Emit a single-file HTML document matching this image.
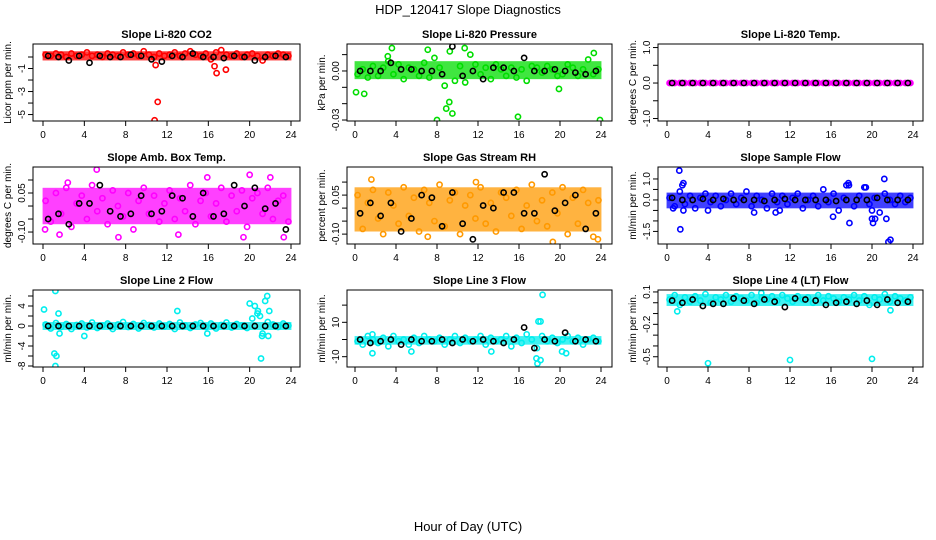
<!DOCTYPE html>
<html><head><meta charset="utf-8"><style>
html,body{margin:0;padding:0;background:#fff;}
svg{display:block;font-family:"Liberation Sans",Arial,sans-serif;}
</style></head><body>
<svg id="fig" width="936" height="540" viewBox="0 0 936 540">
<rect width="936" height="540" fill="#fff"/>
<text x="468" y="14" text-anchor="middle" font-size="13">HDP_120417  Slope Diagnostics</text>
<text x="468" y="531" text-anchor="middle" font-size="13">Hour of Day (UTC)</text>
</svg>
<script>
// ---- data ----
const hoursColor = [0.25,0.75,1.25,1.75,2.25,2.75,3.25,3.75,4.25,4.75,5.25,5.75,6.25,6.75,7.25,7.75,8.25,8.75,9.25,9.75,10.25,10.75,11.25,11.75,12.25,12.75,13.25,13.75,14.25,14.75,15.25,15.75,16.25,16.75,17.25,17.75,18.25,18.75,19.25,19.75,20.25,20.75,21.25,21.75,22.25,22.75,23.25,23.75];
const hoursBlack = [0.5,1.5,2.5,3.5,4.5,5.5,6.5,7.5,8.5,9.5,10.5,11.5,12.5,13.5,14.5,15.5,16.5,17.5,18.5,19.5,20.5,21.5,22.5,23.5];
const xTicks = [0,4,8,12,16,20,24];

const co2Color = [0.2,0.1,0.3,0.2,0,0.3,0.1,0.2,0.4,0.1,0.2,0,0.3,0.2,0.1,0.4,0.2,0.3,0.1,0.5,0.2,0,0.3,0.1,0.2,0.4,0.1,0.3,0.5,0.2,0.1,0.3,-0.2,0.4,0.6,0.2,0.1,0.3,0,0.2,0.3,0.1,-0.3,0.2,0.1,0.3,0.2,0.1];
const co2OutX = [10.8,11.1,16.8,17.7,16.6,10.9];
const co2OutY = [-5.5,-3.9,-1.4,-1.1,-0.8,-0.7];
const co2Black = [0.1,0,-0.3,0.1,-0.5,0.1,0,0,0.2,0.1,-0.2,-0.4,0.1,0,0.3,0,0,-0.1,0.1,0,-0.3,0,0.1,0];

const presColor = [-0.002,0.001,-0.004,0.003,-0.003,0.002,0.006,-0.002,0.004,-0.005,0.002,0.001,-0.003,0.005,-0.004,0.008,0.002,-0.009,0.012,-0.006,0.003,-0.007,0.01,0.004,-0.002,0.002,-0.005,0.004,0.001,-0.003,0.002,-0.004,0.001,-0.006,0.003,0.002,-0.001,0.003,0.001,-0.003,-0.002,0.004,0.002,-0.003,0.001,0.007,-0.002,0.001];
const presOutX = [0.1,0.9,3.6,8.0,8.9,9.2,9.5,15.9,19.9,23.3,23.9,7.1,10.7,3.2];
const presOutY = [-0.013,-0.014,0.014,-0.030,-0.023,-0.019,-0.026,-0.028,-0.011,0.011,-0.030,0.013,0.014,0.009];
const presBlack = [0,0,0,0.005,0.001,0.001,0,0,-0.002,0.015,-0.003,0,-0.005,0.002,0.002,0,0.008,0,0,0.001,0,-0.001,-0.002,0];

const tempColor = hoursColor.map(()=>0);
const tempBlack = hoursBlack.map(()=>0);

const ambColor = [0.02,-0.06,0.05,-0.03,0.07,-0.08,0.01,0.04,-0.05,0.08,-0.02,0.03,-0.07,0.06,0,-0.04,0.05,-0.09,0.02,0.07,-0.03,0.04,-0.06,0.01,0.06,-0.05,0.03,-0.02,0.08,-0.07,0.02,0.05,-0.04,0.01,0.07,-0.06,0.04,-0.02,0.06,-0.08,0.03,0.05,-0.03,0.07,-0.05,0.02,0.04,-0.06];
const ambOutX = [5.2,0.2,1.6,2.4,7.3,13.1,19.4,23.3,15.9,20.0,22.0];
const ambOutY = [0.14,-0.09,-0.11,0.09,-0.12,-0.11,-0.12,-0.12,0.11,0.12,0.11];
const ambBlack = [-0.05,-0.03,-0.07,0.01,0.01,0.08,-0.02,-0.04,-0.03,0.04,-0.03,-0.02,0.04,0.03,-0.04,0.05,-0.04,-0.03,0.08,0,0.07,-0.01,0.01,-0.09];

const rhColor = [0.05,-0.08,0.02,0.07,-0.04,-0.1,0.06,0.01,-0.06,0.08,-0.03,0.04,-0.09,0.07,0.02,-0.05,0.09,-0.07,0.03,0.06,-0.1,0.01,0.05,-0.04,0.08,-0.06,0.02,-0.09,0.06,0.04,-0.03,0.07,-0.08,0.01,0.09,-0.05,0.03,-0.07,0.06,-0.02,0.08,-0.1,0.04,-0.06,0.07,0.02,-0.11,0.03];
const rhOutX = [1.6,7.1,19.3,23.7,11.8];
const rhOutY = [0.11,-0.11,-0.13,-0.12,0.1];
const rhBlack = [-0.02,0.02,-0.03,0.02,-0.09,-0.04,0.05,0.04,-0.07,0.06,-0.06,-0.12,0.01,0,0.06,0.06,-0.02,-0.02,0.13,-0.01,0.02,0.05,-0.08,-0.02];

const flowColor = [0.1,-0.3,0.4,-0.2,0.2,-0.4,0.1,0.3,-0.1,0.2,-0.3,0,0.3,-0.2,0.1,0.4,-0.3,0.2,0,-0.4,0.3,-0.1,0.2,-0.2,0.1,0.3,-0.4,0,0.2,-0.3,0.5,-0.1,0.3,-0.5,0.1,0.7,-0.3,0.2,0.6,-0.2,0.1,-0.6,0.3,0,-0.2,0.2,-0.1,0.1];
const flowOutX = [1.2,1.5,1.6,1.3,1.6,16.2,17.8,20,20,20.1,20.3,21.2,21.6,21.8,21.4,17.5,17.7,8.5,10.6,11,19.4,4,0.6];
const flowOutY = [1.4,0.7,0.8,-1.4,-0.5,-0.8,-1.1,-0.5,-0.9,-1.1,-0.9,1.0,-2.0,-1.9,-0.9,0.7,0.8,-0.6,-0.6,-0.5,0.6,-0.5,-0.4];
const flowBlack = [0.1,0,0,0.05,0,0.05,0,0,0,-0.05,0,0.05,0,0,0,0,-0.05,0,0,0,0.1,0,0,0];

const l2Color = [0.3,-0.5,0.6,-0.2,0.4,-0.6,0.2,0.5,-0.3,0.7,-0.4,0.1,0.5,-0.6,0.3,0.8,-0.2,0.4,-0.5,0.6,0.2,-0.3,0.5,-0.1,0.4,-0.6,0.7,0.1,-0.4,0.3,0.6,-0.2,0.5,-0.5,0.2,0.7,-0.3,0.4,0.1,-0.4,1.5,2.5,-1.5,0.8,0.3,-0.2,0.5,0.1];
const l2OutX = [0.1,1.2,1.1,1.3,1.2,1.5,1.6,4,13,15.9,20,20.5,20.8,21,21.2,21.5,21.7,21.9,21.8,21.1];
const l2OutY = [3.3,7,-5.5,-6,-8,2.5,-1.5,-2,3,-1.5,4.5,4,3,2,-2,5,6,3,-2,-6.5];
const l2Black = hoursBlack.map(()=>0);

const l3Color = [-1,-3,2,0,-2,1,-4,2,-1,0,-3,1,-2,2,0,-1,1,-3,0,2,-2,1,-1,0,2,-3,1,-1,0,2,-4,1,-2,3,0,-5,2,-1,1,-2,0,2,-1,1,-3,0,1,-1];
const l3OutX = [18.3,17.9,18.1,17.7,17.8,18.1,1.7,1.7,5.5,13.3,20.2,20.6];
const l3OutY = [26,10.5,10.5,-11,-14,-12,3,-8,-7,-7,-7,-8];
const l3Black = [0,-2,-1,0,-3,0,-1,-1,0,-2,0,-1,0,-1,-2,0,7,-5,0,-1,4,-1,0,-1];

const ltColor = [0.03,0.07,-0.02,0.05,0.01,0.06,0.02,0.08,0,0.05,0.03,0.07,0.01,0.06,0.04,0.02,0.07,0,0.05,0.03,0.06,0.02,0.07,0.04,0.01,0.06,0.03,0.05,0,0.07,0.02,0.06,0.04,0.01,0.05,0.03,0.07,0.02,0.06,-0.02,0.05,0.03,0.08,0.01,0.06,0.04,0.02,0.05];
const ltOutX = [4,12,20,9.2,1.0,21.8];
const ltOutY = [-0.56,-0.53,-0.52,0.09,-0.08,-0.07];
const ltBlack = [0.02,0,0.03,-0.03,-0.01,-0.01,0.04,0.02,-0.01,0.03,0.01,-0.04,0.04,0.03,0.02,-0.02,0,0.01,-0.01,0.02,-0.02,0.03,0,0.01];

// ---- layout ----
const cols = [{l:33,r:300,x0:43,x24:291},{l:347,r:612,x0:355,x24:601},{l:658,r:923,x0:667,x24:913}];
const rowsTop = [44,167,290];
const H = 77;
const panels = [
 {t:'Slope Li-820 CO2',yl:'Licor ppm per min.',c:0,r:0,col:'#ff0000',top:1.13,bot:-5.56,ticks:[-5,-4,-3,-2,-1,0],labs:['-5','','-3','','-1',''],band:[-0.3,0.5],cv:co2Color,ox:co2OutX,oy:co2OutY,bv:co2Black},
 {t:'Slope Li-820 Pressure',yl:'kPa per min.',c:1,r:0,col:'#00dd00',top:0.0165,bot:-0.0306,ticks:[-0.03,-0.02,-0.01,0,0.01],labs:['-0.03','','','0.00',''],band:[-0.005,0.006],cv:presColor,ox:presOutX,oy:presOutY,bv:presBlack},
 {t:'Slope Li-820 Temp.',yl:'degrees C per min.',c:2,r:0,col:'#ff00ff',top:1.1,bot:-1.07,ticks:[-1,-0.5,0,0.5,1],labs:['-1.0','','0.0','','1.0'],band:null,cv:tempColor,ox:[],oy:[],bv:tempBlack},
 {t:'Slope Amb. Box Temp.',yl:'degrees C per min.',c:0,r:1,col:'#ff00ff',top:0.15,bot:-0.146,ticks:[-0.1,-0.05,0,0.05,0.1],labs:['-0.10','','','0.05',''],band:[-0.07,0.07],cv:ambColor,ox:ambOutX,oy:ambOutY,bv:ambBlack},
 {t:'Slope Gas Stream RH',yl:'percent per min.',c:1,r:1,col:'#ff9900',top:0.158,bot:-0.138,ticks:[-0.1,-0.05,0,0.05,0.1],labs:['-0.10','','','0.05',''],band:[-0.09,0.08],cv:rhColor,ox:rhOutX,oy:rhOutY,bv:rhBlack},
 {t:'Slope Sample Flow',yl:'ml/min per min.',c:2,r:1,col:'#0000ff',top:1.57,bot:-2.1,ticks:[-1.5,-1,-0.5,0,0.5,1],labs:['-1.5','','','0.0','','1.0'],band:[-0.4,0.35],cv:flowColor,ox:flowOutX,oy:flowOutY,bv:flowBlack},
 {t:'Slope Line 2 Flow',yl:'ml/min per min.',c:0,r:2,col:'#00eeee',top:7.2,bot:-8.2,ticks:[-8,-6,-4,-2,0,2,4,6],labs:['-8','','-4','','0','','4',''],band:[-0.8,0.8],cv:l2Color,ox:l2OutX,oy:l2OutY,bv:l2Black},
 {t:'Slope Line 3 Flow',yl:'ml/min per min.',c:1,r:2,col:'#00eeee',top:28.8,bot:-16,ticks:[-10,0,10,20],labs:['-10','','10',''],band:[-3,2],cv:l3Color,ox:l3OutX,oy:l3OutY,bv:l3Black},
 {t:'Slope Line 4 (LT) Flow',yl:'ml/min per min.',c:2,r:2,col:'#00eeee',top:0.118,bot:-0.595,ticks:[-0.5,-0.4,-0.3,-0.2,-0.1,0,0.1],labs:['-0.5','','','-0.2','','','0.1'],band:[-0.03,0.08],cv:ltColor,ox:ltOutX,oy:ltOutY,bv:ltBlack}
];
const NS='http://www.w3.org/2000/svg';
const svg=document.getElementById('fig');
function mk(tag,attrs,parent){const e=document.createElementNS(NS,tag);for(const k in attrs)e.setAttribute(k,attrs[k]);(parent||svg).appendChild(e);return e;}

panels.forEach((p,pi)=>{
  const C=cols[p.c], top=rowsTop[p.r], bot=top+H;
  const g=mk('g',{});
  
  
  const xs=h=>C.x0+(C.x24-C.x0)*h/24;
  const ys=v=>top+(p.top-v)/(p.top-p.bot)*H;
  const clip='clip'+pi;
  const cp=mk('clipPath',{id:clip},g); mk('rect',{x:C.l,y:top,width:C.r-C.l,height:H},cp);
  const t=mk('text',{x:(C.l+C.r)/2,y:top-6,'text-anchor':'middle','font-size':'11','font-weight':'bold'},g);t.textContent=p.t;
  
  
  const yl=mk('text',{x:0,y:0,'text-anchor':'middle','font-size':'10',transform:`translate(${C.l-22},${top+H/2}) rotate(-90)`},g);yl.textContent=p.yl;
  
  
  const pts=mk('g',{'clip-path':`url(#${clip})`},g);
  if(p.band){
    const b=mk('rect',{x:xs(hoursColor[0])-3,y:ys(p.band[1]),width:xs(hoursColor[hoursColor.length-1])-xs(hoursColor[0])+6,height:ys(p.band[0])-ys(p.band[1]),fill:p.col,opacity:0.75},pts);
    
    
  }
  if(!p.band){
    const ln=mk('line',{x1:xs(0),x2:xs(24),y1:ys(0),y2:ys(0),stroke:p.col,'stroke-width':4},pts);
    
    
  }
  p.cv.forEach((v,i)=>{const c=mk('circle',{cx:xs(hoursColor[i]),cy:ys(v),r:2.6,fill:'none',stroke:p.col,'stroke-width':1.6},pts);
    
    });
  p.ox.forEach((h,i)=>{const c=mk('circle',{cx:xs(h),cy:ys(p.oy[i]),r:2.6,fill:'none',stroke:p.col,'stroke-width':1.6},pts);
    
    });
  p.bv.forEach((v,i)=>{const c=mk('circle',{cx:xs(hoursBlack[i]),cy:ys(v),r:2.6,fill:'none',stroke:'#000','stroke-width':1.6},pts);
    
    });
  const box=mk('rect',{x:C.l,y:top,width:C.r-C.l,height:H,fill:'none',stroke:'#000','stroke-width':1},g);
  
  
  xTicks.forEach(h=>{mk('line',{x1:xs(h),x2:xs(h),y1:bot,y2:bot+5,stroke:'#000'},g);
    const tl=mk('text',{x:xs(h),y:bot+17,'text-anchor':'middle','font-size':'10'},g);tl.textContent=h;
    
    });
  p.ticks.forEach((v,i)=>{mk('line',{x1:C.l-5,x2:C.l,y1:ys(v),y2:ys(v),stroke:'#000'},g);
    if(p.labs[i]){const tl=mk('text',{x:0,y:0,'text-anchor':'middle','font-size':'10',transform:`translate(${C.l-8},${ys(v)}) rotate(-90)`},g);tl.textContent=p.labs[i];
    
    }});
});
</script>
</body></html>
